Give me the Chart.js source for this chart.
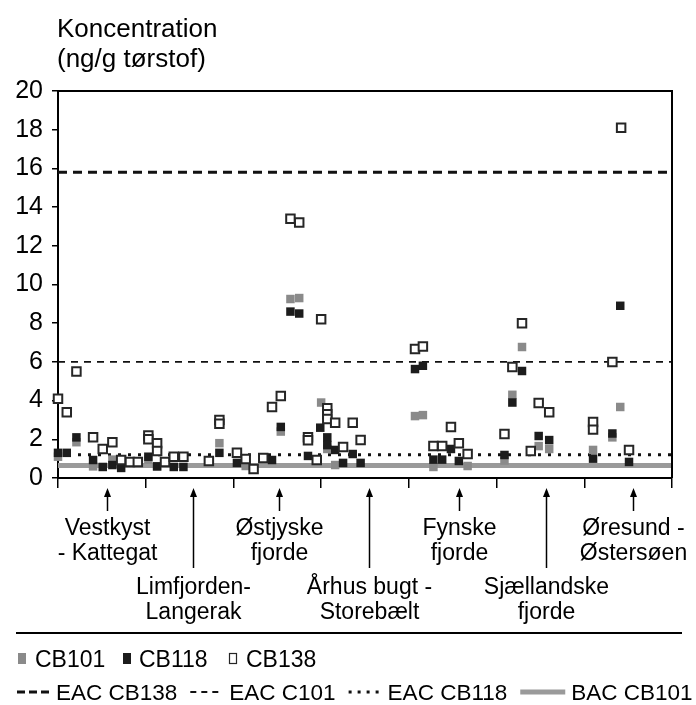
<!DOCTYPE html>
<html>
<head>
<meta charset="utf-8">
<script src="https://cdn.jsdelivr.net/npm/chart.js@4.4.0/dist/chart.umd.min.js"></script>
<style>
  html, body { margin: 0; padding: 0; background: #fff; }
  #wrap { width: 696px; height: 705px; }
</style>
</head>
<body>
<div id="wrap"><canvas id="chart" width="696" height="705"></canvas></div>
<script>
const FONT = "'Liberation Sans', Arial, Helvetica, sans-serif";

// ---- data ----
// x axis: 7 coastal regions, each one unit wide
const regionBounds = [0, 1, 2, 3, 4, 5, 6, 7];
const regionNames = [
  ["Vestkyst", "- Kattegat"], ["Limfjorden-", "Langerak"], ["Østjyske", "fjorde"],
  ["Århus bugt -", "Storebælt"], ["Fynske", "fjorde"], ["Sjællandske", "fjorde"],
  ["Øresund -", "Østersøen"]
];
const regionArrowX = [0.56, 1.54, 2.52, 3.55, 4.57, 5.56, 6.55];
const regionRow = [0, 1, 0, 1, 0, 1, 0];   // 0 = upper label row, 1 = lower label row

const yTicks = [0, 2, 4, 6, 8, 10, 12, 14, 16, 18, 20];

// concentrations (ng/g tørstof), [station position, value]
const cb101 = [
  [0.00, 1.1], [0.21, 1.85], [0.40, 0.6], [0.62, 0.95], [1.03, 0.95], [1.13, 0.6],
  [1.84, 1.8], [2.14, 0.62], [2.54, 2.4], [2.65, 9.25], [2.75, 9.3], [3.00, 3.9],
  [3.07, 1.5], [3.16, 0.67], [4.07, 3.2], [4.16, 3.25], [4.28, 0.57], [4.67, 0.62],
  [5.09, 0.9], [5.18, 4.3], [5.29, 6.77], [5.48, 1.65], [5.60, 1.5], [6.10, 1.45],
  [6.32, 2.1], [6.41, 3.67]
];
const cb118 = [
  [0.00, 1.3], [0.10, 1.3], [0.21, 2.1], [0.40, 0.93], [0.51, 0.57], [0.62, 0.67],
  [0.72, 0.52], [1.03, 1.1], [1.13, 0.6], [1.32, 0.57], [1.43, 0.57], [1.84, 1.3],
  [2.04, 0.78], [2.44, 0.93], [2.54, 2.64], [2.65, 8.6], [2.75, 8.5], [2.85, 1.14],
  [2.99, 2.6], [3.07, 2.1], [3.07, 1.7], [3.16, 1.45], [3.25, 0.78], [3.36, 1.24],
  [3.45, 0.78], [4.07, 5.63], [4.16, 5.8], [4.28, 0.95], [4.38, 0.95], [4.48, 1.5],
  [4.57, 0.88], [5.09, 1.19], [5.18, 3.9], [5.29, 5.53], [5.48, 2.17], [5.60, 1.96],
  [6.10, 1.0], [6.32, 2.3], [6.41, 8.9], [6.51, 0.83]
];
const cb138 = [
  [0.00, 4.1], [0.10, 3.4], [0.21, 5.5], [0.40, 2.1], [0.51, 1.5], [0.62, 1.85],
  [0.72, 0.93], [0.82, 0.83], [0.91, 0.83], [1.03, 2.2], [1.03, 2.0], [1.13, 1.8],
  [1.13, 1.4], [1.22, 0.83], [1.32, 1.1], [1.43, 1.1], [1.72, 0.88], [1.84, 3.0],
  [1.84, 2.8], [2.04, 1.3], [2.14, 0.98], [2.23, 0.46], [2.34, 1.03], [2.44, 3.67],
  [2.54, 4.24], [2.65, 13.4], [2.75, 13.2], [2.85, 2.1], [2.85, 1.95], [2.95, 0.93],
  [3.00, 8.2], [3.07, 3.6], [3.07, 3.3], [3.07, 3.05], [3.16, 2.85], [3.25, 1.6],
  [3.36, 2.85], [3.45, 1.96], [4.07, 6.67], [4.16, 6.8], [4.28, 1.65], [4.38, 1.65],
  [4.48, 2.64], [4.57, 1.8], [4.67, 1.24], [5.09, 2.27], [5.18, 5.74], [5.29, 8.0],
  [5.39, 1.4], [5.48, 3.87], [5.60, 3.4], [6.10, 2.9], [6.10, 2.5], [6.32, 6.0],
  [6.42, 18.1], [6.51, 1.45]
];

// assessment criteria (horizontal lines)
const limitNames = ["EAC CB138", "EAC C101", "EAC CB118", "BAC CB101"];
const limitValues = [15.8, 6.0, 1.2, 0.65];

// ---- styles ----
const seriesStyle = {
  CB101: { bg: '#8a8a8a', border: '#8a8a8a', bw: 0 },
  CB118: { bg: '#1c1c1c', border: '#1c1c1c', bw: 0 },
  CB138: { bg: '#ffffff', border: '#262626', bw: 2 }
};
const limitStyle = [
  { color: '#111', width: 3, dash: [9, 6], legendDash: [8, 4], legendLen: 33 },
  { color: '#111', width: 1.8, dash: [7, 6], legendDash: [6, 5], legendLen: 33 },
  { color: '#111', width: 3, dash: [3, 7], legendDash: [3, 6], legendLen: 33 },
  { color: '#9a9a9a', width: 5, dash: [], legendDash: [], legendLen: 45 }
];

function toPoints(arr) { return arr.map(p => ({ x: p[0], y: p[1] })); }

function scatterSet(label, arr, order) {
  const s = seriesStyle[label];
  return {
    type: 'scatter', label, data: toPoints(arr), order, clip: false,
    pointStyle: 'rect', pointRadius: 6, pointHoverRadius: 6,
    backgroundColor: s.bg, borderColor: s.border, borderWidth: s.bw
  };
}

const datasets = [
  scatterSet('CB138', cb138, 0),
  scatterSet('CB118', cb118, 1),
  scatterSet('CB101', cb101, 2)
];
limitValues.forEach((v, i) => {
  datasets.push({
    type: 'line', label: limitNames[i], order: 3 + i,
    data: [{ x: regionBounds[0], y: v }, { x: regionBounds[regionBounds.length - 1], y: v }],
    borderColor: limitStyle[i].color, borderWidth: limitStyle[i].width,
    borderDash: limitStyle[i].dash, pointRadius: 0, borderCapStyle: 'butt', fill: false
  });
});

// ---- extra drawing: frame, axis title, region labels, legend ----
const decorPlugin = {
  id: 'decor',
  afterDraw(chart) {
    const ctx = chart.ctx;
    const a = chart.chartArea;
    const xs = chart.scales.x;
    ctx.save();

    // frame top + right
    ctx.strokeStyle = '#000';
    ctx.lineWidth = 2;
    ctx.beginPath();
    ctx.moveTo(a.left, a.top); ctx.lineTo(a.right, a.top); ctx.lineTo(a.right, a.bottom);
    ctx.stroke();

    // y title
    ctx.fillStyle = '#000';
    ctx.font = '26px ' + FONT;
    ctx.textAlign = 'left';
    ctx.textBaseline = 'alphabetic';
    ctx.fillText('Koncentration', 57, 37);
    ctx.fillText('(ng/g tørstof)', 57, 67);

    // region arrows + labels
    ctx.font = '23px ' + FONT;
    ctx.textAlign = 'center';
    ctx.lineWidth = 1.5;
    regionNames.forEach((lines, i) => {
      const x = Math.round(xs.getPixelForValue(regionArrowX[i])) + 0.5;
      const tip = a.bottom + 10;
      const end = regionRow[i] === 0 ? 511 : 568;
      ctx.beginPath();
      ctx.moveTo(x, tip + 4); ctx.lineTo(x, end); ctx.stroke();
      ctx.beginPath();
      ctx.moveTo(x, tip); ctx.lineTo(x - 3.5, tip + 9); ctx.lineTo(x + 3.5, tip + 9);
      ctx.closePath(); ctx.fill();
      const base = regionRow[i] === 0 ? 535 : 594;
      ctx.fillText(lines[0], x, base);
      ctx.fillText(lines[1], x, base + 25);
    });

    // separator
    ctx.lineWidth = 2;
    ctx.beginPath();
    ctx.moveTo(16, 633); ctx.lineTo(682, 633); ctx.stroke();

    // legend row 1: markers
    ctx.font = '23px ' + FONT;
    ctx.textAlign = 'left';
    const b1 = 667;
    const marks = [['CB101', 18, 35], ['CB118', 123, 139], ['CB138', 229, 246]];
    marks.forEach(m => {
      const s = seriesStyle[m[0]];
      ctx.fillStyle = s.bg;
      ctx.fillRect(m[1], b1 - 14, 8, 11);
      if (s.bw) { ctx.strokeStyle = s.border; ctx.lineWidth = 1.2; ctx.strokeRect(m[1] + 0.5, b1 - 13.5, 7, 10); }
      ctx.fillStyle = '#000';
      ctx.fillText(m[0], m[2], b1);
    });

    // legend row 2: criteria lines
    ctx.font = '22.5px ' + FONT;
    const b2 = 700;
    const mid2 = 692;
    let x = 17;
    limitNames.forEach((name, i) => {
      const st = limitStyle[i];
      ctx.strokeStyle = st.color;
      ctx.lineWidth = st.width;
      ctx.setLineDash(st.legendDash);
      ctx.beginPath(); ctx.moveTo(x, mid2); ctx.lineTo(x + st.legendLen, mid2); ctx.stroke();
      ctx.setLineDash([]);
      x += st.legendLen + 6;
      ctx.fillStyle = '#000';
      ctx.fillText(name, x, b2);
      x += ctx.measureText(name).width + 13;
    });
    ctx.restore();
  }
};

new Chart(document.getElementById('chart'), {
  data: { datasets },
  options: {
    responsive: false,
    animation: false,
    devicePixelRatio: 1,
    layout: { padding: { left: 0, right: 24, top: 91, bottom: 217 } },
    plugins: { legend: { display: false }, tooltip: { enabled: false } },
    scales: {
      x: {
        type: 'linear', min: 0, max: 7,
        afterBuildTicks: s => { s.ticks = regionBounds.map(v => ({ value: v })); },
        ticks: { display: false },
        grid: { drawOnChartArea: false, drawTicks: true, tickLength: 10, color: '#000', lineWidth: 1.5 },
        border: { color: '#000', width: 2 },
        afterFit: s => { s.height = 10; }
      },
      y: {
        min: 0, max: 20,
        afterBuildTicks: s => { s.ticks = yTicks.map(v => ({ value: v })); },
        ticks: { font: { family: FONT, size: 25 }, color: '#000', padding: 9 },
        grid: { drawOnChartArea: false, tickLength: 6, color: '#000', lineWidth: 1.5 },
        border: { color: '#000', width: 2 },
        afterFit: s => { s.width = 58; }
      }
    }
  },
  plugins: [decorPlugin]
});
</script>
</body>
</html>
